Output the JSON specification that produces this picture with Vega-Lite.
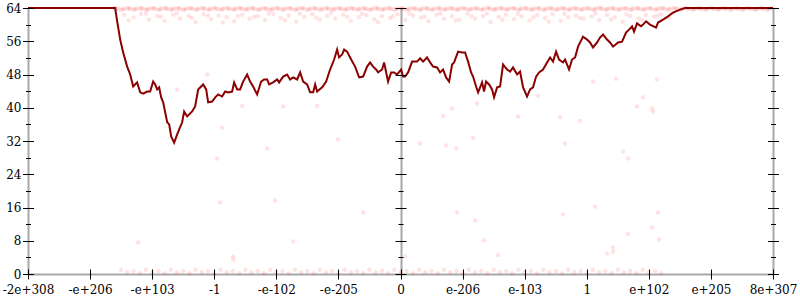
{
"$schema": "https://vega.github.io/schema/vega-lite/v6.json",
"width": 745, "height": 266,
"autosize": {"type": "none"},
"padding": {"left": 28, "top": 8, "right": 27, "bottom": 26},
"background": "white",
"config": {"view": {"stroke": null}, "axis": {"grid": false, "title": null, "labelFont": "DejaVu Serif", "labelFontSize": 12, "labelColor": "black", "tickColor": "black", "tickWidth": 1}},
"datasets": {
"curve": [
{"x":-6,"y":64},{"x":-4.596,"y":64},{"x":-4.568,"y":61.2},{"x":-4.515,"y":56.4},{"x":-4.467,"y":53.3},{"x":-4.403,"y":49.9},{"x":-4.354,"y":48.0},{"x":-4.306,"y":45.1},{"x":-4.242,"y":46.1},{"x":-4.193,"y":43.7},{"x":-4.145,"y":43.4},{"x":-4.081,"y":43.9},{"x":-4.032,"y":43.9},{"x":-3.984,"y":46.3},{"x":-3.952,"y":45.6},{"x":-3.919,"y":44.4},{"x":-3.887,"y":44.9},{"x":-3.855,"y":42.5},{"x":-3.823,"y":41.3},{"x":-3.758,"y":36.5},{"x":-3.726,"y":36.0},{"x":-3.694,"y":33.1},{"x":-3.646,"y":31.6},{"x":-3.597,"y":33.6},{"x":-3.565,"y":34.8},{"x":-3.517,"y":36.5},{"x":-3.485,"y":39.1},{"x":-3.436,"y":37.9},{"x":-3.356,"y":39.1},{"x":-3.308,"y":40.3},{"x":-3.259,"y":44.4},{"x":-3.179,"y":45.6},{"x":-3.130,"y":44.4},{"x":-3.098,"y":41.3},{"x":-3.034,"y":41.5},{"x":-2.985,"y":42.5},{"x":-2.937,"y":43.2},{"x":-2.873,"y":42.7},{"x":-2.824,"y":43.9},{"x":-2.776,"y":43.7},{"x":-2.712,"y":43.9},{"x":-2.680,"y":46.1},{"x":-2.631,"y":44.4},{"x":-2.583,"y":44.4},{"x":-2.535,"y":46.3},{"x":-2.470,"y":48.0},{"x":-2.422,"y":46.3},{"x":-2.374,"y":45.1},{"x":-2.309,"y":43.2},{"x":-2.245,"y":46.3},{"x":-2.197,"y":46.8},{"x":-2.148,"y":46.8},{"x":-2.116,"y":45.6},{"x":-2.052,"y":46.1},{"x":-1.987,"y":46.8},{"x":-1.955,"y":46.1},{"x":-1.890,"y":47.5},{"x":-1.826,"y":48.0},{"x":-1.778,"y":46.8},{"x":-1.729,"y":47.3},{"x":-1.665,"y":46.8},{"x":-1.617,"y":48.5},{"x":-1.568,"y":46.3},{"x":-1.504,"y":45.6},{"x":-1.456,"y":43.7},{"x":-1.407,"y":43.7},{"x":-1.375,"y":45.6},{"x":-1.343,"y":43.9},{"x":-1.262,"y":44.9},{"x":-1.198,"y":46.3},{"x":-1.134,"y":49.2},{"x":-1.069,"y":51.6},{"x":-1.021,"y":54.0},{"x":-0.989,"y":52.1},{"x":-0.940,"y":52.8},{"x":-0.908,"y":54.0},{"x":-0.860,"y":53.5},{"x":-0.795,"y":51.6},{"x":-0.731,"y":49.9},{"x":-0.667,"y":47.3},{"x":-0.602,"y":47.5},{"x":-0.538,"y":49.9},{"x":-0.490,"y":50.9},{"x":-0.441,"y":49.9},{"x":-0.393,"y":49.2},{"x":-0.361,"y":48.5},{"x":-0.296,"y":49.2},{"x":-0.264,"y":50.9},{"x":-0.200,"y":46.3},{"x":-0.151,"y":48.5},{"x":-0.103,"y":48.5},{"x":-0.055,"y":48.0},{"x":0.010,"y":49.2},{"x":0.042,"y":47.5},{"x":0.074,"y":47.5},{"x":0.122,"y":48.5},{"x":0.187,"y":51.1},{"x":0.267,"y":51.1},{"x":0.316,"y":51.9},{"x":0.364,"y":51.1},{"x":0.428,"y":52.1},{"x":0.477,"y":50.9},{"x":0.525,"y":49.9},{"x":0.589,"y":49.7},{"x":0.638,"y":48.5},{"x":0.686,"y":49.2},{"x":0.734,"y":47.3},{"x":0.783,"y":46.3},{"x":0.831,"y":50.4},{"x":0.863,"y":50.9},{"x":0.928,"y":53.5},{"x":0.992,"y":53.3},{"x":1.040,"y":53.3},{"x":1.089,"y":51.1},{"x":1.137,"y":48.5},{"x":1.169,"y":47.5},{"x":1.217,"y":45.1},{"x":1.250,"y":43.7},{"x":1.314,"y":46.1},{"x":1.346,"y":43.9},{"x":1.378,"y":46.3},{"x":1.427,"y":45.6},{"x":1.475,"y":44.4},{"x":1.507,"y":42.5},{"x":1.556,"y":44.9},{"x":1.604,"y":45.1},{"x":1.652,"y":50.4},{"x":1.717,"y":49.2},{"x":1.765,"y":48.7},{"x":1.813,"y":49.7},{"x":1.878,"y":48.0},{"x":1.926,"y":48.7},{"x":1.974,"y":44.9},{"x":2.039,"y":42.7},{"x":2.087,"y":44.4},{"x":2.135,"y":44.9},{"x":2.184,"y":47.5},{"x":2.232,"y":48.5},{"x":2.296,"y":49.2},{"x":2.361,"y":50.9},{"x":2.409,"y":52.1},{"x":2.457,"y":51.1},{"x":2.506,"y":53.5},{"x":2.554,"y":51.6},{"x":2.618,"y":50.9},{"x":2.651,"y":51.6},{"x":2.715,"y":49.2},{"x":2.763,"y":51.6},{"x":2.812,"y":52.1},{"x":2.860,"y":54.7},{"x":2.940,"y":57.1},{"x":3.005,"y":56.4},{"x":3.053,"y":55.7},{"x":3.101,"y":54.5},{"x":3.166,"y":55.7},{"x":3.214,"y":56.9},{"x":3.263,"y":57.6},{"x":3.327,"y":56.4},{"x":3.375,"y":55.7},{"x":3.424,"y":54.7},{"x":3.504,"y":55.7},{"x":3.569,"y":55.9},{"x":3.633,"y":58.1},{"x":3.681,"y":58.8},{"x":3.730,"y":59.6},{"x":3.762,"y":58.3},{"x":3.810,"y":60.3},{"x":3.875,"y":59.6},{"x":3.907,"y":60.0},{"x":3.955,"y":60.8},{"x":4.019,"y":60.0},{"x":4.116,"y":59.3},{"x":4.148,"y":60.5},{"x":4.229,"y":61.2},{"x":4.309,"y":62.0},{"x":4.390,"y":62.9},{"x":4.502,"y":63.6},{"x":4.583,"y":64},{"x":6,"y":64}
],
"pts": [
{"x":-4.6,"y":64},{"x":-4.55,"y":63.8},{"x":-4.5,"y":63.6},{"x":-4.45,"y":63.8},{"x":-4.4,"y":64},{"x":-4.35,"y":63.8},{"x":-4.3,"y":63.6},{"x":-4.25,"y":63.8},{"x":-4.2,"y":64},{"x":-4.15,"y":63.8},{"x":-4.1,"y":63.6},{"x":-4.05,"y":63.8},{"x":-4.0,"y":64},{"x":-3.95,"y":63.8},{"x":-3.9,"y":63.6},{"x":-3.85,"y":63.8},{"x":-3.8,"y":64},{"x":-3.75,"y":63.8},{"x":-3.7,"y":63.6},{"x":-3.65,"y":63.8},{"x":-3.6,"y":64},{"x":-3.55,"y":63.8},{"x":-3.5,"y":63.6},{"x":-3.45,"y":63.8},{"x":-3.4,"y":64},{"x":-3.35,"y":63.8},{"x":-3.3,"y":63.6},{"x":-3.25,"y":63.8},{"x":-3.2,"y":64},{"x":-3.15,"y":63.8},{"x":-3.1,"y":63.6},{"x":-3.05,"y":63.8},{"x":-3.0,"y":64},{"x":-2.95,"y":63.8},{"x":-2.9,"y":63.6},{"x":-2.85,"y":63.8},{"x":-2.8,"y":64},{"x":-2.75,"y":63.8},{"x":-2.7,"y":63.6},{"x":-2.65,"y":63.8},{"x":-2.6,"y":64},{"x":-2.55,"y":63.8},{"x":-2.5,"y":63.6},{"x":-2.45,"y":63.8},{"x":-2.4,"y":64},{"x":-2.35,"y":63.8},{"x":-2.3,"y":63.6},{"x":-2.25,"y":63.8},{"x":-2.2,"y":64},{"x":-2.15,"y":63.8},{"x":-2.1,"y":63.6},{"x":-2.05,"y":63.8},{"x":-2.0,"y":64},{"x":-1.95,"y":63.8},{"x":-1.9,"y":63.6},{"x":-1.85,"y":63.8},{"x":-1.8,"y":64},{"x":-1.75,"y":63.8},{"x":-1.7,"y":63.6},{"x":-1.65,"y":63.8},{"x":-1.6,"y":64},{"x":-1.55,"y":63.8},{"x":-1.5,"y":63.6},{"x":-1.45,"y":63.8},{"x":-1.4,"y":64},{"x":-1.35,"y":63.8},{"x":-1.3,"y":63.6},{"x":-1.25,"y":63.8},{"x":-1.2,"y":64},{"x":-1.15,"y":63.8},{"x":-1.1,"y":63.6},{"x":-1.05,"y":63.8},{"x":-1.0,"y":64},{"x":-0.95,"y":63.8},{"x":-0.9,"y":63.6},{"x":-0.85,"y":63.8},{"x":-0.8,"y":64},{"x":-0.75,"y":63.8},{"x":-0.7,"y":63.6},{"x":-0.65,"y":63.8},{"x":-0.6,"y":64},{"x":-0.55,"y":63.8},{"x":-0.5,"y":63.6},{"x":-0.45,"y":63.8},{"x":-0.4,"y":64},{"x":-0.35,"y":63.8},{"x":-0.3,"y":63.6},{"x":-0.25,"y":63.8},{"x":-0.2,"y":64},{"x":-0.15,"y":63.8},{"x":-0.1,"y":63.6},{"x":-0.05,"y":63.8},{"x":0.0,"y":64},{"x":0.05,"y":63.8},{"x":0.1,"y":63.6},{"x":0.15,"y":63.8},{"x":0.2,"y":64},{"x":0.25,"y":63.8},{"x":0.3,"y":63.6},{"x":0.35,"y":63.8},{"x":0.4,"y":64},{"x":0.45,"y":63.8},{"x":0.5,"y":63.6},{"x":0.55,"y":63.8},{"x":0.6,"y":64},{"x":0.65,"y":63.8},{"x":0.7,"y":63.6},{"x":0.75,"y":63.8},{"x":0.8,"y":64},{"x":0.85,"y":63.8},{"x":0.9,"y":63.6},{"x":0.95,"y":63.8},{"x":1.0,"y":64},{"x":1.05,"y":63.8},{"x":1.1,"y":63.6},{"x":1.15,"y":63.8},{"x":1.2,"y":64},{"x":1.25,"y":63.8},{"x":1.3,"y":63.6},{"x":1.35,"y":63.8},{"x":1.4,"y":64},{"x":1.45,"y":63.8},{"x":1.5,"y":63.6},{"x":1.55,"y":63.8},{"x":1.6,"y":64},{"x":1.65,"y":63.8},{"x":1.7,"y":63.6},{"x":1.75,"y":63.8},{"x":1.8,"y":64},{"x":1.85,"y":63.8},{"x":1.9,"y":63.6},{"x":1.95,"y":63.8},{"x":2.0,"y":64},{"x":2.05,"y":63.8},{"x":2.1,"y":63.6},{"x":2.15,"y":63.8},{"x":2.2,"y":64},{"x":2.25,"y":63.8},{"x":2.3,"y":63.6},{"x":2.35,"y":63.8},{"x":2.4,"y":64},{"x":2.45,"y":63.8},{"x":2.5,"y":63.6},{"x":2.55,"y":63.8},{"x":2.6,"y":64},{"x":2.65,"y":63.8},{"x":2.7,"y":63.6},{"x":2.75,"y":63.8},{"x":2.8,"y":64},{"x":2.85,"y":63.8},{"x":2.9,"y":63.6},{"x":2.95,"y":63.8},{"x":3.0,"y":64},{"x":3.05,"y":63.8},{"x":3.1,"y":63.6},{"x":3.15,"y":63.8},{"x":3.2,"y":64},{"x":3.25,"y":63.8},{"x":3.3,"y":63.6},{"x":3.35,"y":63.8},{"x":3.4,"y":64},{"x":3.45,"y":63.8},{"x":3.5,"y":63.6},{"x":3.55,"y":63.8},{"x":3.6,"y":64},{"x":3.65,"y":63.8},{"x":3.7,"y":63.6},{"x":3.75,"y":63.8},{"x":3.8,"y":64},{"x":3.85,"y":63.8},{"x":3.9,"y":63.6},{"x":3.95,"y":63.8},{"x":4.0,"y":64},{"x":4.05,"y":63.8},{"x":4.1,"y":63.6},{"x":4.15,"y":63.8},{"x":4.2,"y":64},{"x":4.25,"y":63.8},{"x":4.3,"y":63.6},{"x":4.35,"y":63.8},{"x":4.4,"y":64},{"x":4.45,"y":63.8},{"x":4.5,"y":63.6},{"x":4.55,"y":63.8},{"x":4.6,"y":64},{"x":4.65,"y":63.8},{"x":4.7,"y":63.6},{"x":4.75,"y":63.8},{"x":4.8,"y":64},{"x":4.85,"y":63.8},{"x":4.9,"y":63.6},{"x":4.95,"y":63.8},{"x":5.0,"y":64},{"x":5.05,"y":63.8},{"x":5.1,"y":63.6},{"x":5.15,"y":63.8},{"x":5.2,"y":64},{"x":5.25,"y":63.8},{"x":5.3,"y":63.6},{"x":5.35,"y":63.8},{"x":5.4,"y":64},{"x":5.45,"y":63.8},{"x":5.5,"y":63.6},{"x":5.55,"y":63.8},{"x":5.6,"y":64},{"x":5.65,"y":63.8},{"x":5.7,"y":63.6},{"x":5.75,"y":63.8},{"x":5.8,"y":64},{"x":5.85,"y":63.8},{"x":5.9,"y":63.6},{"x":5.95,"y":63.8},{"x":6.0,"y":64},
{"x":-4.575,"y":63.9},{"x":-4.475,"y":63.7},{"x":-4.375,"y":63.9},{"x":-4.275,"y":63.7},{"x":-4.175,"y":63.9},{"x":-4.075,"y":63.7},{"x":-3.975,"y":63.9},{"x":-3.875,"y":63.7},{"x":-3.775,"y":63.9},{"x":-3.675,"y":63.7},{"x":-3.575,"y":63.9},{"x":-3.475,"y":63.7},{"x":-3.375,"y":63.9},{"x":-3.275,"y":63.7},{"x":-3.175,"y":63.9},{"x":-3.075,"y":63.7},{"x":-2.975,"y":63.9},{"x":-2.875,"y":63.7},{"x":-2.775,"y":63.9},{"x":-2.675,"y":63.7},{"x":-2.575,"y":63.9},{"x":-2.475,"y":63.7},{"x":-2.375,"y":63.9},{"x":-2.275,"y":63.7},{"x":-2.175,"y":63.9},{"x":-2.075,"y":63.7},{"x":-1.975,"y":63.9},{"x":-1.875,"y":63.7},{"x":-1.775,"y":63.9},{"x":-1.675,"y":63.7},{"x":-1.575,"y":63.9},{"x":-1.475,"y":63.7},{"x":-1.375,"y":63.9},{"x":-1.275,"y":63.7},{"x":-1.175,"y":63.9},{"x":-1.075,"y":63.7},{"x":-0.975,"y":63.9},{"x":-0.875,"y":63.7},{"x":-0.775,"y":63.9},{"x":-0.675,"y":63.7},{"x":-0.575,"y":63.9},{"x":-0.475,"y":63.7},{"x":-0.375,"y":63.9},{"x":-0.275,"y":63.7},{"x":-0.175,"y":63.9},{"x":-0.075,"y":63.7},{"x":0.025,"y":63.9},{"x":0.125,"y":63.7},{"x":0.225,"y":63.9},{"x":0.325,"y":63.7},{"x":0.425,"y":63.9},{"x":0.525,"y":63.7},{"x":0.625,"y":63.9},{"x":0.725,"y":63.7},{"x":0.825,"y":63.9},{"x":0.925,"y":63.7},{"x":1.025,"y":63.9},{"x":1.125,"y":63.7},{"x":1.225,"y":63.9},{"x":1.325,"y":63.7},{"x":1.425,"y":63.9},{"x":1.525,"y":63.7},{"x":1.625,"y":63.9},{"x":1.725,"y":63.7},{"x":1.825,"y":63.9},{"x":1.925,"y":63.7},{"x":2.025,"y":63.9},{"x":2.125,"y":63.7},{"x":2.225,"y":63.9},{"x":2.325,"y":63.7},{"x":2.425,"y":63.9},{"x":2.525,"y":63.7},{"x":2.625,"y":63.9},{"x":2.725,"y":63.7},{"x":2.825,"y":63.9},{"x":2.925,"y":63.7},{"x":3.025,"y":63.9},{"x":3.125,"y":63.7},{"x":3.225,"y":63.9},{"x":3.325,"y":63.7},{"x":3.425,"y":63.9},{"x":3.525,"y":63.7},{"x":3.625,"y":63.9},{"x":3.725,"y":63.7},{"x":3.825,"y":63.9},{"x":3.925,"y":63.7},{"x":4.025,"y":63.9},{"x":4.125,"y":63.7},{"x":4.225,"y":63.9},{"x":4.325,"y":63.7},{"x":4.425,"y":63.9},{"x":4.525,"y":63.7},{"x":4.625,"y":63.9},{"x":4.725,"y":63.7},{"x":4.825,"y":63.9},{"x":4.925,"y":63.7},{"x":5.025,"y":63.9},{"x":5.125,"y":63.7},{"x":5.225,"y":63.9},{"x":5.325,"y":63.7},{"x":5.425,"y":63.9},{"x":5.525,"y":63.7},{"x":5.625,"y":63.9},{"x":5.725,"y":63.7},{"x":5.825,"y":63.9},{"x":5.925,"y":63.7},
{"x":-4.45,"y":62.3},{"x":-4.3,"y":61.7},{"x":-4.18,"y":62.6},{"x":-4.05,"y":61.2},{"x":-3.92,"y":62.1},{"x":-3.8,"y":60.9},{"x":-3.66,"y":62.4},{"x":-3.55,"y":61.5},{"x":-3.41,"y":62.0},{"x":-3.3,"y":60.6},{"x":-3.17,"y":62.5},{"x":-3.05,"y":61.3},{"x":-2.93,"y":62.2},{"x":-2.8,"y":61.8},{"x":-2.68,"y":60.8},{"x":-2.55,"y":62.4},{"x":-2.43,"y":61.4},{"x":-2.3,"y":62.0},{"x":-2.18,"y":61.1},{"x":-2.05,"y":62.6},{"x":-1.93,"y":61.6},{"x":-1.8,"y":62.2},{"x":-1.68,"y":60.7},{"x":-1.55,"y":61.9},{"x":-1.42,"y":62.5},{"x":-1.3,"y":61.2},{"x":-1.18,"y":62.1},{"x":-1.05,"y":61.5},{"x":-0.92,"y":62.4},{"x":-0.8,"y":60.9},{"x":-0.67,"y":61.8},{"x":-0.55,"y":62.3},{"x":-0.42,"y":61.3},{"x":-0.3,"y":62.0},{"x":-0.17,"y":61.6},{"x":-0.05,"y":62.5},{"x":0.08,"y":61.1},{"x":0.2,"y":62.2},{"x":0.33,"y":61.7},{"x":0.45,"y":60.8},{"x":0.58,"y":62.4},{"x":0.7,"y":61.4},{"x":0.83,"y":62.0},{"x":0.95,"y":61.2},{"x":1.08,"y":62.6},{"x":1.2,"y":61.5},{"x":1.33,"y":62.1},{"x":1.45,"y":60.6},{"x":1.58,"y":61.9},{"x":1.7,"y":62.4},{"x":1.83,"y":61.3},{"x":1.95,"y":62.0},{"x":2.08,"y":61.0},{"x":2.2,"y":62.3},{"x":2.33,"y":61.6},{"x":2.45,"y":62.5},{"x":2.58,"y":60.9},{"x":2.7,"y":61.8},{"x":2.83,"y":62.2},{"x":2.95,"y":61.4},{"x":3.08,"y":62.0},{"x":3.2,"y":61.1},{"x":3.33,"y":62.4},{"x":3.45,"y":61.7},{"x":3.58,"y":60.7},{"x":3.7,"y":62.1},{"x":3.83,"y":61.5},{"x":3.95,"y":62.3},{"x":4.08,"y":61.9},{"x":4.2,"y":62.5},{"x":4.33,"y":61.6},
{"x":-4.38,"y":61.0},{"x":-4.1,"y":62.7},{"x":-3.86,"y":61.9},{"x":-3.6,"y":62.8},{"x":-3.36,"y":61.6},{"x":-3.1,"y":62.2},{"x":-2.86,"y":60.5},{"x":-2.62,"y":62.0},{"x":-2.36,"y":61.9},{"x":-2.12,"y":62.7},{"x":-1.86,"y":61.0},{"x":-1.62,"y":62.6},{"x":-1.36,"y":61.7},{"x":-1.12,"y":62.8},{"x":-0.86,"y":61.9},{"x":-0.62,"y":62.6},{"x":-0.36,"y":60.6},{"x":-0.12,"y":62.0},{"x":0.14,"y":62.7},{"x":0.39,"y":61.9},{"x":0.64,"y":62.7},{"x":0.89,"y":61.0},{"x":1.14,"y":62.0},{"x":1.39,"y":62.7},{"x":1.64,"y":61.2},{"x":1.89,"y":62.6},{"x":2.14,"y":61.8},{"x":2.39,"y":60.7},{"x":2.64,"y":62.6},{"x":2.89,"y":61.6},{"x":3.14,"y":62.7},{"x":3.39,"y":61.2},{"x":3.64,"y":62.5},{"x":3.89,"y":61.1},{"x":4.14,"y":62.2},{"x":4.38,"y":62.7},
{"x":-4.5,"y":1.0},{"x":-4.4,"y":0.4},{"x":-4.3,"y":0.7},{"x":-4.2,"y":0.2},{"x":-4.1,"y":1.0},{"x":-4.0,"y":0.4},{"x":-3.9,"y":0.7},{"x":-3.8,"y":0.2},{"x":-3.7,"y":1.0},{"x":-3.6,"y":0.4},{"x":-3.5,"y":0.7},{"x":-3.4,"y":0.2},{"x":-3.3,"y":1.0},{"x":-3.2,"y":0.4},{"x":-3.1,"y":0.7},{"x":-3.0,"y":0.2},{"x":-2.9,"y":1.0},{"x":-2.8,"y":0.4},{"x":-2.7,"y":0.7},{"x":-2.6,"y":0.2},{"x":-2.5,"y":1.0},{"x":-2.4,"y":0.4},{"x":-2.3,"y":0.7},{"x":-2.2,"y":0.2},{"x":-2.1,"y":1.0},{"x":-2.0,"y":0.4},{"x":-1.9,"y":0.7},{"x":-1.8,"y":0.2},{"x":-1.7,"y":1.0},{"x":-1.6,"y":0.4},{"x":-1.5,"y":0.7},{"x":-1.4,"y":0.2},{"x":-1.3,"y":1.0},{"x":-1.2,"y":0.4},{"x":-1.1,"y":0.7},{"x":-1.0,"y":0.2},{"x":-0.9,"y":1.0},{"x":-0.8,"y":0.4},{"x":-0.7,"y":0.7},{"x":-0.6,"y":0.2},{"x":-0.5,"y":1.0},{"x":-0.4,"y":0.4},{"x":-0.3,"y":0.7},{"x":-0.2,"y":0.2},{"x":-0.1,"y":1.0},{"x":0.0,"y":0.4},{"x":0.1,"y":0.7},{"x":0.2,"y":0.2},{"x":0.3,"y":1.0},{"x":0.4,"y":0.4},{"x":0.5,"y":0.7},{"x":0.6,"y":0.2},{"x":0.7,"y":1.0},{"x":0.8,"y":0.4},{"x":0.9,"y":0.7},{"x":1.0,"y":0.2},{"x":1.1,"y":1.0},{"x":1.2,"y":0.4},{"x":1.3,"y":0.7},{"x":1.4,"y":0.2},{"x":1.5,"y":1.0},{"x":1.6,"y":0.4},{"x":1.7,"y":0.7},{"x":1.8,"y":0.2},{"x":1.9,"y":1.0},{"x":2.0,"y":0.4},{"x":2.1,"y":0.7},{"x":2.2,"y":0.2},{"x":2.3,"y":1.0},{"x":2.4,"y":0.4},{"x":2.5,"y":0.7},{"x":2.6,"y":0.2},{"x":2.7,"y":1.0},{"x":2.8,"y":0.4},{"x":2.9,"y":0.7},{"x":3.0,"y":0.2},{"x":3.1,"y":1.0},{"x":3.2,"y":0.4},{"x":3.3,"y":0.7},{"x":3.4,"y":0.2},{"x":3.5,"y":1.0},{"x":3.6,"y":0.4},{"x":3.7,"y":0.7},{"x":3.8,"y":0.2},{"x":3.9,"y":1.0},{"x":4.0,"y":0.4},{"x":4.1,"y":0.7},{"x":4.2,"y":0.2},
{"x":-3.601,"y":44.4},{"x":-4.225,"y":7.6},{"x":-2.904,"y":17.2},{"x":-2.695,"y":4.2},{"x":-2.695,"y":3.5},{"x":-2.019,"y":17.7},{"x":-1.729,"y":7.8},{"x":-0.601,"y":14.8},{"x":0.075,"y":4.2},{"x":0.912,"y":14.8},{"x":1.202,"y":12.9},{"x":1.347,"y":8.1},{"x":1.572,"y":4.5},{"x":2.619,"y":14.3},{"x":3.134,"y":16.2},{"x":4.149,"y":14.8},{"x":4.052,"y":11.2},{"x":3.666,"y":9.7},{"x":4.165,"y":8.3},{"x":3.424,"y":6.4},{"x":3.424,"y":5.4},{"x":3.327,"y":4.9},{"x":-3.114,"y":48.0},{"x":-2.55,"y":40.5},{"x":-1.89,"y":40.3},{"x":-1.343,"y":40.5},{"x":-2.873,"y":35.2},{"x":-2.148,"y":30.2},{"x":-1.005,"y":32.4},{"x":-2.953,"y":27.8},{"x":3.102,"y":46.3},{"x":3.472,"y":47.0},{"x":4.132,"y":46.8},{"x":2.216,"y":42.9},{"x":1.234,"y":41.0},{"x":0.832,"y":39.8},{"x":0.687,"y":38.1},{"x":1.894,"y":37.9},{"x":2.57,"y":37.7},{"x":2.892,"y":36.9},{"x":3.81,"y":40.3},{"x":3.907,"y":42.5},{"x":4.052,"y":39.8},{"x":4.068,"y":39.1},{"x":1.17,"y":32.8},{"x":0.316,"y":31.4},{"x":0.735,"y":30.9},{"x":0.896,"y":30.2},{"x":2.651,"y":31.4},{"x":3.585,"y":29.5},{"x":3.666,"y":27.8}
]
},
"layer": [
{
"data": {"name": "pts"},
"mark": {"type": "circle", "color": "#ff0000", "opacity": 0.11, "size": 20},
"encoding": {
"x": {"field": "x", "type": "quantitative", "scale": {"domain": [-6, 6], "nice": false, "zero": false},
"axis": {"orient": "bottom", "values": [-6, 0, 6], "grid": true, "gridColor": "#a8a8a8", "gridWidth": 2, "ticks": false, "labels": false, "domain": true, "domainColor": "#a8a8a8", "domainWidth": 2, "zindex": 0}},
"y": {"field": "y", "type": "quantitative", "scale": {"domain": [0, 64], "nice": false, "zero": false},
"axis": {"orient": "left", "values": [0, 8, 16, 24, 32, 40, 48, 56, 64], "tickSize": 11, "offset": -5.5, "domain": false, "labelPadding": 1.5, "labelFlush": false, "labelOverlap": false, "zindex": 1}}
}
},
{
"data": {"name": "curve"},
"mark": {"type": "line", "color": "#8b0000", "strokeWidth": 2},
"encoding": {
"x": {"field": "x", "type": "quantitative",
"axis": {"orient": "bottom", "values": [-6, -5, -4, -3, -2, -1, 0, 1, 2, 3, 4, 5, 6], "tickSize": 10, "offset": -5, "domain": false, "labelPadding": 5, "labelFlush": false, "labelOverlap": false, "zindex": 1,
"labelExpr": "['-2e+308','-e+206','-e+103','-1','-e-102','-e-205','0','e-206','e-103','1','e+102','e+205','8e+307'][datum.value + 6]"}},
"y": {"field": "y", "type": "quantitative",
"axis": {"orient": "left", "values": [4, 12, 20, 28, 36, 44, 52, 60], "tickSize": 5, "offset": -2.5, "domain": false, "labels": false, "zindex": 1}}
}
},
{
"data": {"name": "curve"},
"mark": {"type": "point", "opacity": 0},
"encoding": {
"x": {"field": "x", "type": "quantitative", "axis": null},
"y": {"field": "y", "type": "quantitative",
"axis": {"orient": "right", "values": [0, 8, 16, 24, 32, 40, 48, 56, 64], "tickSize": 11, "offset": -5.5, "domain": false, "labels": false, "zindex": 1}}
}
},
{
"data": {"name": "curve"},
"mark": {"type": "point", "opacity": 0},
"encoding": {
"x": {"field": "x", "type": "quantitative", "axis": null},
"y": {"field": "y", "type": "quantitative",
"axis": {"orient": "right", "values": [4, 12, 20, 28, 36, 44, 52, 60], "tickSize": 5, "offset": -2.5, "domain": false, "labels": false, "zindex": 1}}
}
},
{
"data": {"name": "curve"},
"mark": {"type": "point", "opacity": 0},
"encoding": {
"x": {"field": "x", "type": "quantitative", "axis": null},
"y": {"field": "y", "type": "quantitative",
"axis": {"orient": "left", "values": [0, 8, 16, 24, 32, 40, 48, 56, 64], "tickSize": 11, "offset": -378, "domain": false, "labels": false, "zindex": 1}}
}
},
{
"data": {"name": "curve"},
"mark": {"type": "point", "opacity": 0},
"encoding": {
"x": {"field": "x", "type": "quantitative", "axis": null},
"y": {"field": "y", "type": "quantitative",
"axis": {"orient": "left", "values": [4, 12, 20, 28, 36, 44, 52, 60], "tickSize": 5, "offset": -375, "domain": false, "labels": false, "zindex": 1}}
}
}
],
"resolve": {"axis": {"x": "independent", "y": "independent"}}
}
